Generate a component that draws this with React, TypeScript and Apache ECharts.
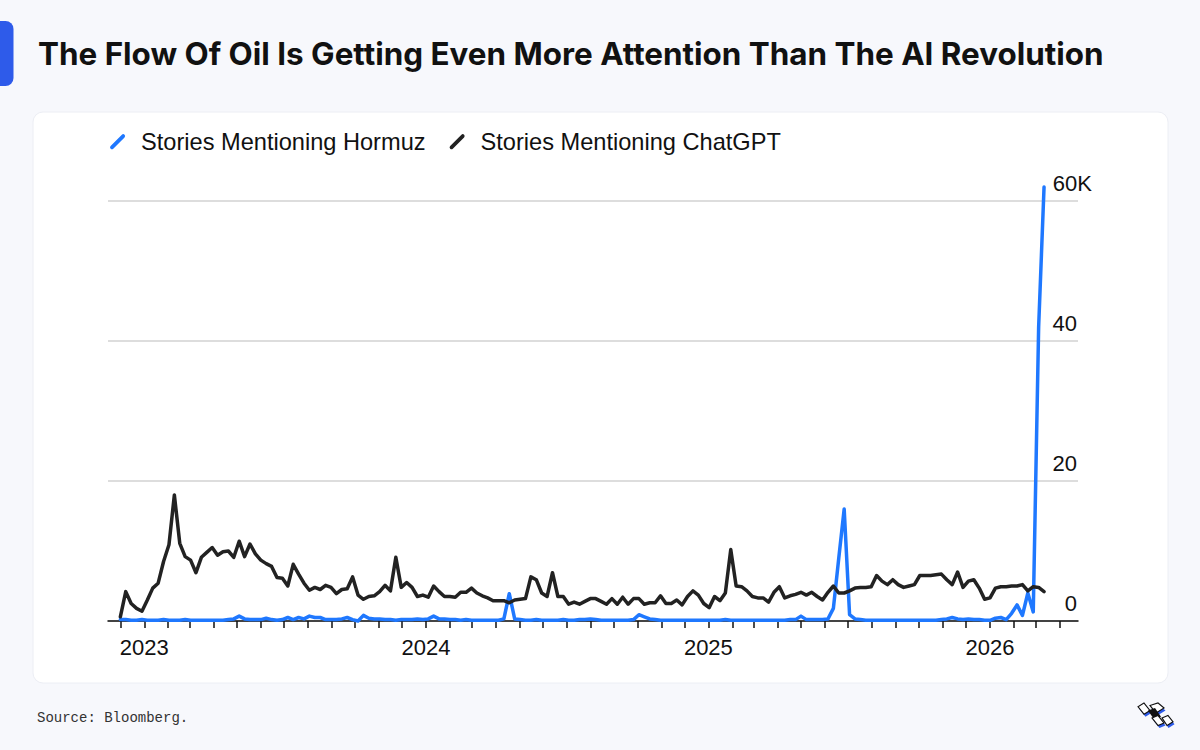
import React, { useEffect, useRef } from "react";
import * as echarts from "echarts";

const TITLE = "The Flow Of Oil Is Getting Even More Attention Than The AI Revolution";
const SOURCE = "Source: Bloomberg.";
const SERIES_NAMES = ["Stories Mentioning Hormuz", "Stories Mentioning ChatGPT"];
const Y_TICKS = [0, 20, 40, 60];

// weekly observations, thousands of stories; first week starts 2022-12-01
const FIRST_WEEK = "2022-12-01";
const AXIS_START = "2022-11-15";
const AXIS_END = "2026-04-25";

const hormuz = [
  0.2, 0.2, 0.1, 0.1, 0.2, 0.1, 0.1, 0.1, 0.2, 0.1,
  0.1, 0.1, 0.2, 0.1, 0.1, 0.1, 0.1, 0.1, 0.1, 0.1,
  0.2, 0.3, 0.7, 0.3, 0.2, 0.2, 0.2, 0.4, 0.2, 0.1,
  0.2, 0.5, 0.2, 0.5, 0.3, 0.7, 0.5, 0.5, 0.2, 0.2,
  0.2, 0.3, 0.5, 0.2, 0.0, 0.8, 0.4, 0.3, 0.3, 0.2,
  0.2, 0.1, 0.2, 0.2, 0.2, 0.3, 0.2, 0.3, 0.7, 0.3,
  0.3, 0.2, 0.2, 0.1, 0.2, 0.1, 0.1, 0.1, 0.1, 0.1,
  0.1, 0.3, 3.9, 0.3, 0.2, 0.1, 0.1, 0.2, 0.1, 0.1,
  0.1, 0.1, 0.2, 0.1, 0.1, 0.2, 0.2, 0.3, 0.2, 0.1,
  0.1, 0.1, 0.1, 0.1, 0.1, 0.2, 0.9, 0.6, 0.3, 0.2,
  0.1, 0.1, 0.1, 0.1, 0.1, 0.1, 0.1, 0.1, 0.1, 0.1,
  0.1, 0.1, 0.2, 0.1, 0.1, 0.1, 0.1, 0.1, 0.1, 0.1,
  0.1, 0.1, 0.1, 0.1, 0.2, 0.2, 0.7, 0.2, 0.2, 0.2,
  0.2, 0.3, 1.8, 9.0, 16.0, 0.9, 0.3, 0.2, 0.1, 0.1,
  0.1, 0.1, 0.1, 0.1, 0.1, 0.1, 0.1, 0.1, 0.1, 0.1,
  0.1, 0.1, 0.2, 0.3, 0.5, 0.3, 0.2, 0.3, 0.2, 0.2,
  0.1, 0.1, 0.4, 0.5, 0.2, 1.1, 2.3, 0.8, 4.0, 1.3,
  42.0, 62.0,
];

const chatgpt = [
  0.6, 4.2, 2.5, 1.8, 1.4, 3.0, 4.7, 5.4, 8.5, 10.9,
  18.0, 11.1, 9.2, 8.7, 6.9, 9.1, 9.8, 10.5, 9.4, 9.9,
  10.0, 9.1, 11.4, 9.2, 11.0, 9.6, 8.7, 8.2, 7.8, 6.2,
  6.1, 5.0, 8.1, 6.7, 5.4, 4.4, 4.8, 4.5, 5.1, 4.8,
  3.9, 4.5, 4.6, 6.3, 3.7, 3.1, 3.5, 3.6, 4.2, 5.1,
  4.3, 9.1, 4.8, 5.5, 4.8, 3.5, 3.7, 3.4, 5.0, 4.2,
  3.5, 3.5, 3.4, 4.1, 4.1, 4.7, 4.0, 3.6, 3.3, 2.9,
  2.9, 2.9, 2.6, 3.0, 3.1, 3.2, 6.3, 5.9, 4.0, 3.5,
  6.9, 3.5, 3.5, 2.4, 2.7, 2.4, 2.8, 3.2, 3.2, 2.8,
  2.4, 3.2, 2.4, 3.4, 2.4, 3.2, 3.2, 2.4, 2.6, 2.6,
  3.6, 2.5, 2.5, 3.0, 2.3, 3.5, 4.3, 3.7, 2.5, 1.9,
  3.5, 2.9, 4.0, 10.2, 5.0, 4.9, 4.3, 3.5, 3.3, 3.3,
  2.7, 4.1, 4.9, 3.3, 3.6, 3.8, 4.1, 3.7, 4.1, 3.5,
  3.0, 4.1, 5.0, 4.0, 4.0, 4.3, 4.7, 4.8, 4.8, 4.9,
  6.5, 5.7, 5.2, 5.9, 5.2, 4.8, 5.0, 5.2, 6.5, 6.5,
  6.5, 6.6, 6.7, 5.9, 5.2, 7.0, 4.8, 5.7, 5.9, 4.7,
  3.1, 3.3, 4.7, 4.9, 4.9, 5.0, 5.0, 5.2, 4.3, 4.9,
  4.8, 4.2,
];

const BLUE = "#1f78ff";
const BLACK = "#222222";
const SANS = '"Liberation Sans", Arial, Helvetica, sans-serif';
const DAY = 86400000;

function weekDates(n: number): number[] {
  const start = new Date(FIRST_WEEK + "T00:00:00Z").getTime();
  const out: number[] = [];
  for (let i = 0; i < n; i++) out.push(start + i * 7 * DAY);
  return out;
}

function pairs(values: number[]) {
  const d = weekDates(values.length);
  return values.map((v, i) => [d[i], v]);
}

// slanted rounded stroke, plus an invisible speck at the right to widen the icon box
const LEGEND_ICON =
  "path://M0.7,11.7 L11.7,0.7 Q13,-0.5 14.3,0.7 Q15.5,2 14.3,3.3 L3.3,14.3 Q2,15.5 0.7,14.3 Q-0.5,13 0.7,11.7 Z M25.5,15.5 L25.5,15.49 L25.49,15.5 Z";

function buildOption(): any {
  return {
    animation: false,
    backgroundColor: "#f7f8fc",
    textStyle: { fontFamily: SANS },
    grid: { left: 108, right: 122, top: 201, bottom: 129, containLabel: false },
    legend: {
      left: 110,
      top: 130,
      padding: 0,
      itemWidth: 26,
      itemHeight: 16,
      itemGap: 24,
      selectedMode: false,
      icon: LEGEND_ICON,
      itemStyle: { borderWidth: 0 },
      textStyle: { fontSize: 23.6, color: "#111", fontFamily: SANS },
      data: [
        { name: SERIES_NAMES[0], itemStyle: { color: BLUE, borderWidth: 0 } },
        { name: SERIES_NAMES[1], itemStyle: { color: BLACK, borderWidth: 0 } },
      ],
    },
    xAxis: {
      type: "time",
      min: new Date(AXIS_START + "T00:00:00Z").getTime(),
      max: new Date(AXIS_END + "T00:00:00Z").getTime(),
      splitNumber: 42,
      minInterval: 28 * DAY,
      maxInterval: 32 * DAY,
      axisLine: { show: true, onZero: true, lineStyle: { color: "#111", width: 1.5 } },
      axisTick: { show: true, length: 7, lineStyle: { color: "#111", width: 1.5 } },
      splitLine: { show: false },
      axisLabel: {
        color: "#111",
        fontSize: 22,
        fontFamily: SANS,
        margin: 15,
        hideOverlap: false,
        showMinLabel: false,
        showMaxLabel: false,
        formatter: {
          year: "{yyyy}",
          month: "",
          day: "",
          hour: "",
          minute: "",
          second: "",
          millisecond: "",
          none: "",
        },
      },
    },
    yAxis: {
      type: "value",
      position: "right",
      min: 0,
      max: 60,
      interval: 20,
      axisLine: { show: false },
      axisTick: { show: false },
      splitLine: { lineStyle: { color: "#d2d2d2", width: 1.5 } },
      axisLabel: {
        inside: false,
        align: "right",
        verticalAlign: "bottom",
        margin: 14,
        padding: [0, 0, 7, 0],
        showMaxLabel: true,
        formatter: (v: number) =>
          v === Y_TICKS[Y_TICKS.length - 1] ? `{n|${v}}{k|K}` : `{n|${v}}{s|}`,
        rich: {
          n: { fontSize: 22, lineHeight: 22, color: "#111", fontFamily: SANS },
          k: { fontSize: 22, lineHeight: 22, color: "#111", fontFamily: SANS },
          s: { width: 15, height: 22, lineHeight: 22 },
        },
      },
    },
    series: [
      {
        name: SERIES_NAMES[0],
        type: "line",
        data: pairs(hormuz),
        showSymbol: false,
        symbol: "none",
        clip: false,
        z: 3,
        lineStyle: { color: BLUE, width: 3.5, join: "round", cap: "round" },
        itemStyle: { color: BLUE },
      },
      {
        name: SERIES_NAMES[1],
        type: "line",
        data: pairs(chatgpt),
        showSymbol: false,
        symbol: "none",
        clip: false,
        z: 4,
        lineStyle: { color: BLACK, width: 3.5, join: "round", cap: "round" },
        itemStyle: { color: BLACK },
      },
    ],
    graphic: [
      {
        type: "rect",
        z: -10,
        silent: true,
        shape: { x: 33, y: 112, width: 1135, height: 571, r: 10 },
        style: { fill: "#ffffff", stroke: "#eceef4", lineWidth: 1 },
      },
      {
        type: "rect",
        silent: true,
        shape: { x: -12, y: 21, width: 25.5, height: 65, r: 8 },
        style: { fill: "#2e5bea" },
      },
      {
        type: "text",
        silent: true,
        x: 38,
        y: 54,
        style: {
          text: TITLE,
          fontFamily: "Inter, sans-serif",
          fontWeight: "bold",
          fontSize: 31.4,
          fill: "#111111",
          verticalAlign: "middle",
          align: "left",
        },
      },
      {
        type: "text",
        silent: true,
        x: 37,
        y: 718,
        style: {
          text: SOURCE,
          fontFamily: '"Liberation Mono", "DejaVu Sans Mono", monospace',
          fontSize: 14,
          fill: "#333333",
          verticalAlign: "middle",
          align: "left",
        },
      },
      {
        type: "group",
        x: 1138,
        y: 703,
        scaleY: 1.25,
        silent: true,
        children: [
          { type: "polygon", shape: { points: [[1.5, 5], [7.5, 2], [13.5, 8], [7.5, 11]] }, style: { fill: "#2e5bea" } },
          { type: "polygon", shape: { points: [[13.5, 4], [21.5, 2], [27.5, 6], [19.5, 10]] }, style: { fill: "#2e5bea" } },
          { type: "polygon", shape: { points: [[15.5, 14], [21.5, 12], [27.5, 18], [21.5, 20]] }, style: { fill: "#2e5bea" } },
          { type: "polygon", shape: { points: [[25.5, 14], [31.5, 12], [36.5, 17], [30.5, 20]] }, style: { fill: "#2e5bea" } },
          { type: "polygon", shape: { points: [[0, 3], [6, 0], [12, 6], [6, 9]] }, style: { fill: "#fff", stroke: "#111", lineWidth: 1 } },
          { type: "polygon", shape: { points: [[12, 2], [20, 0], [26, 4], [18, 8]] }, style: { fill: "#fff", stroke: "#111", lineWidth: 1 } },
          { type: "polygon", shape: { points: [[10, 6], [17, 4], [23, 11], [16, 13]] }, style: { fill: "#111" } },
          { type: "polygon", shape: { points: [[14, 12], [20, 10], [26, 16], [20, 18]] }, style: { fill: "#fff", stroke: "#111", lineWidth: 1 } },
          { type: "polygon", shape: { points: [[24, 12], [30, 10], [35, 15], [29, 18]] }, style: { fill: "#fff", stroke: "#111", lineWidth: 1 } },
        ],
      },
    ],
  };
}

export default function App() {
  const ref = useRef<HTMLDivElement>(null);
  useEffect(() => {
    if (!ref.current) return;
    const chart = echarts.init(ref.current, null, { renderer: "svg", width: 1200, height: 750 });
    chart.setOption(buildOption());
    return () => {
      chart.dispose();
    };
  }, []);
  return (
    <div
      ref={ref}
      style={{ position: "fixed", left: 0, top: 0, width: 1200, height: 750, background: "#f7f8fc" }}
    />
  );
}
